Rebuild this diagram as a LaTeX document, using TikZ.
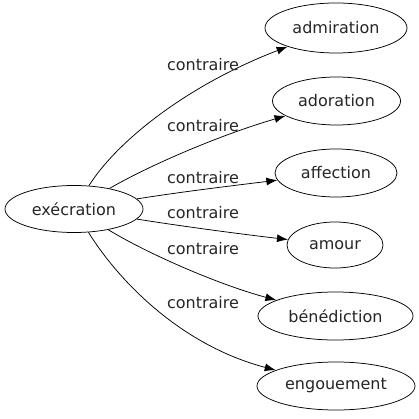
\documentclass[tikz,border=0pt]{standalone}
\usepackage{fontspec}
\setmainfont{DejaVu Sans}
\usetikzlibrary{shapes.geometric,arrows.meta}
\begin{document}
\begin{tikzpicture}[x=1pt,y=-1pt,
  word/.style={ellipse,draw,line width=0.75pt,inner sep=0pt,text=black!85,font=\fontsize{16}{19}\selectfont},
  edge/.style={draw,line width=0.75pt,-{Latex[length=11pt,width=8pt]}},
  lbl/.style={font=\fontsize{16}{19}\selectfont,text=black!85}]
\useasboundingbox (0,0) rectangle (419,419);
\node[word,minimum width=138pt,minimum height=47pt] (ex) at (74,209) {exécration};
\node[word,minimum width=142pt,minimum height=50pt] (adm) at (336,28) {admiration};
\node[word,minimum width=128pt,minimum height=48pt] (ado) at (336.5,101) {adoration};
\node[word,minimum width=122pt,minimum height=48pt] (aff) at (336,173) {affection};
\node[word,minimum width=96pt,minimum height=46pt] (amo) at (335,245) {amour};
\node[word,minimum width=155pt,minimum height=48pt] (ben) at (335.5,316) {bénédiction};
\node[word,minimum width=158pt,minimum height=48pt] (eng) at (336,386) {engouement};
\draw[edge] (ex) .. controls (118,140) and (188,85) .. (adm);
\draw[edge] (ex) .. controls (150,165) and (220,135) .. (ado);
\draw[edge] (ex) .. controls (180,192) and (230,186) .. (aff);
\draw[edge] (ex) .. controls (180,226) and (240,234) .. (amo);
\draw[edge] (ex) .. controls (150,255) and (220,285) .. (ben);
\draw[edge] (ex) .. controls (118,280) and (180,345) .. (eng);
\node[lbl] (l1) at (203,65) {contraire};
\node[lbl] (l2) at (203,126) {contraire};
\node[lbl] (l3) at (203,178) {contraire};
\node[lbl] (l4) at (203,213) {contraire};
\node[lbl] (l5) at (203,249) {contraire};
\node[lbl] (l6) at (203,303) {contraire};
\end{tikzpicture}
\end{document}
